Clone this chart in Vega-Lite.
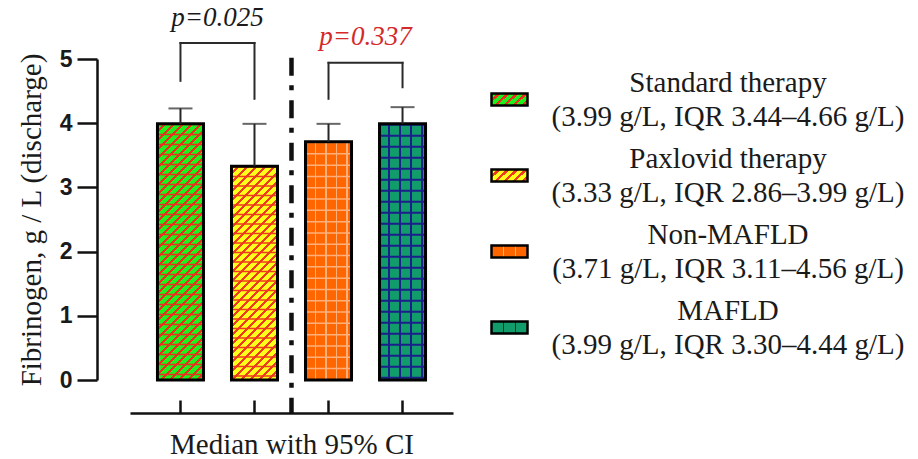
{
  "$schema": "https://vega.github.io/schema/vega-lite/v6.json",
  "width": 323,
  "height": 321,
  "autosize": {"type": "none"},
  "padding": {"left": 130, "top": 59, "right": 465, "bottom": 79},
  "background": "white",
  "datasets": {
    "medians": [
      {"group": "Standard therapy", "legend": "Standard therapy\n(3.99 g/L, IQR 3.44–4.66 g/L)", "median": 3.99, "ci_upper": 4.23},
      {"group": "Paxlovid therapy", "legend": "Paxlovid therapy\n(3.33 g/L, IQR 2.86–3.99 g/L)", "median": 3.33, "ci_upper": 3.99},
      {"group": "Non-MAFLD", "legend": "Non-MAFLD\n(3.71 g/L, IQR 3.11–4.56 g/L)", "median": 3.71, "ci_upper": 3.99},
      {"group": "MAFLD", "legend": "MAFLD\n(3.99 g/L, IQR 3.30–4.44 g/L)", "median": 3.99, "ci_upper": 4.25}
    ],
    "tests": [
      {"left": "Standard therapy", "right": "Paxlovid therapy", "label": "p=0.025", "significant": true},
      {"left": "Non-MAFLD", "right": "MAFLD", "label": "p=0.337", "significant": false}
    ]
  },
  "layer": [
    {
      "data": {"name": "medians"},
      "mark": {"type": "point", "filled": true, "size": 1, "color": "#000"},
      "encoding": {
        "x": {"field": "group", "type": "nominal"},
        "y": {"field": "median", "type": "quantitative"},
        "shape": {
          "field": "legend", "type": "nominal", "sort": null,
          "scale": {"range": ["M-1,-0.333H1V0.333H-1Z", "M-1,-0.333H1V0.333H-1Z", "M-1,-0.333H1V0.333H-1Z", "M-1,-0.333H1V0.333H-1Z"]},
          "legend": {
            "title": null, "orient": "right", "offset": 16, "padding": 21,
            "symbolSize": 1296, "symbolStrokeColor": "#000", "symbolStrokeWidth": 2.5, "symbolOpacity": 1,
            "labelExpr": "split(datum.label, '\\n')",
            "labelFont": "Liberation Serif", "labelFontSize": 29, "labelColor": "#1a1a1a",
            "labelAlign": "center", "labelOffset": 199, "labelLimit": 0, "rowPadding": 12,
            "encoding": {
              "labels": {"lineHeight": {"value": 34}, "dy": {"value": -17}},
              "symbols": {
                "size": {"value": 1296},
                "opacity": {"value": 1},
                "stroke": {"value": "#000"},
                "strokeWidth": {"value": 2.5},
                "fill": {"value": {"expr": "indexof(datum.value,'Standard')===0?{gradient:'linear',x1:0,y1:0,x2:1.2,y2:0.4,stops:[{offset:0,color:'#1ef01e'},{offset:0.1125,color:'#1ef01e'},{offset:0.1125,color:'#e8321e'},{offset:0.1875,color:'#e8321e'},{offset:0.1875,color:'#1ef01e'},{offset:0.3,color:'#1ef01e'},{offset:0.3,color:'#e8321e'},{offset:0.375,color:'#e8321e'},{offset:0.375,color:'#1ef01e'},{offset:0.4875,color:'#1ef01e'},{offset:0.4875,color:'#e8321e'},{offset:0.5625,color:'#e8321e'},{offset:0.5625,color:'#1ef01e'},{offset:0.675,color:'#1ef01e'},{offset:0.675,color:'#e8321e'},{offset:0.75,color:'#e8321e'},{offset:0.75,color:'#1ef01e'},{offset:0.8625,color:'#1ef01e'},{offset:0.8625,color:'#e8321e'},{offset:0.9375,color:'#e8321e'},{offset:0.9375,color:'#1ef01e'},{offset:1,color:'#1ef01e'}]}:indexof(datum.value,'Paxlovid')===0?{gradient:'linear',x1:0,y1:0,x2:1.2,y2:0.4,stops:[{offset:0,color:'#ffff1a'},{offset:0.122,color:'#ffff1a'},{offset:0.122,color:'#ee3a1e'},{offset:0.1875,color:'#ee3a1e'},{offset:0.1875,color:'#ffff1a'},{offset:0.31,color:'#ffff1a'},{offset:0.31,color:'#ee3a1e'},{offset:0.375,color:'#ee3a1e'},{offset:0.375,color:'#ffff1a'},{offset:0.497,color:'#ffff1a'},{offset:0.497,color:'#ee3a1e'},{offset:0.5625,color:'#ee3a1e'},{offset:0.5625,color:'#ffff1a'},{offset:0.685,color:'#ffff1a'},{offset:0.685,color:'#ee3a1e'},{offset:0.75,color:'#ee3a1e'},{offset:0.75,color:'#ffff1a'},{offset:0.872,color:'#ffff1a'},{offset:0.872,color:'#ee3a1e'},{offset:0.9375,color:'#ee3a1e'},{offset:0.9375,color:'#ffff1a'},{offset:1,color:'#ffff1a'}]}:indexof(datum.value,'Non')===0?{gradient:'linear',x1:0,y1:0,x2:1,y2:0,stops:[{offset:0,color:'#ff6600'},{offset:0.313,color:'#ff6600'},{offset:0.313,color:'#ffb07a'},{offset:0.354,color:'#ffb07a'},{offset:0.354,color:'#ff6600'},{offset:0.646,color:'#ff6600'},{offset:0.646,color:'#ffb07a'},{offset:0.688,color:'#ffb07a'},{offset:0.688,color:'#ff6600'},{offset:1,color:'#ff6600'}]}:{gradient:'linear',x1:0,y1:0,x2:1,y2:0,stops:[{offset:0,color:'#129b6b'},{offset:0.31,color:'#129b6b'},{offset:0.31,color:'#1b1f8a'},{offset:0.36,color:'#1b1f8a'},{offset:0.36,color:'#129b6b'},{offset:0.64,color:'#129b6b'},{offset:0.64,color:'#1b1f8a'},{offset:0.69,color:'#1b1f8a'},{offset:0.69,color:'#129b6b'},{offset:1,color:'#129b6b'}]}"}}
              }
            }
          }
        }
      }
    },
    {
      "data": {"name": "medians"},
      "mark": {"type": "bar"},
      "encoding": {
        "x": {
          "field": "group", "type": "nominal",
          "scale": {"domain": ["Standard therapy", "Paxlovid therapy", "Non-MAFLD", "MAFLD"], "paddingInner": 0.3784, "paddingOuter": 0.371},
          "axis": {
            "title": "Median with 95% CI", "labels": false, "offset": 33,
            "tickSize": -13, "tickWidth": 2.5, "tickColor": "#111", "domainWidth": 2.5, "domainColor": "#111",
            "titleFont": "Liberation Serif", "titleFontSize": 29, "titleFontWeight": "normal", "titleColor": "#1a1a1a", "titlePadding": 16
          }
        },
        "y": {
          "field": "median", "type": "quantitative",
          "scale": {"domain": [0, 5], "nice": false},
          "axis": {
            "title": "Fibrinogen, g / L (discharge)", "values": [0, 1, 2, 3, 4, 5], "format": "d", "offset": 33, "grid": false,
            "tickSize": 20, "tickWidth": 2.5, "tickColor": "#111", "domainWidth": 2.5, "domainColor": "#111",
            "labelFont": "Liberation Sans", "labelFontWeight": "bold", "labelFontSize": 23, "labelColor": "#1a1a1a", "labelPadding": 5,
            "titleFont": "Liberation Serif", "titleFontSize": 29, "titleFontWeight": "normal", "titleColor": "#1a1a1a", "titlePadding": 13
          }
        },
        "fill": {
          "field": "group", "type": "nominal", "legend": null,
          "scale": {"domain": ["Standard therapy", "Paxlovid therapy", "Non-MAFLD", "MAFLD"], "range": ["#1ef01e", "#ffff1a", "#ff6600", "#129b6b"]}
        }
      }
    },
    {
      "data": {"name": "medians"},
      "transform": [{"filter": "datum.group === 'Standard therapy'"}],
      "mark": {"type": "bar", "fill": {"gradient": "linear", "x1": 0, "y1": 0, "x2": 0.2445, "y2": 1.3615, "stops": [
        {"offset": 0, "color": "#1ef01e"}, {"offset": 0.017, "color": "#1ef01e"}, {"offset": 0.017, "color": "#e8321e"}, {"offset": 0.025, "color": "#e8321e"},
        {"offset": 0.025, "color": "#1ef01e"}, {"offset": 0.042, "color": "#1ef01e"}, {"offset": 0.042, "color": "#e8321e"}, {"offset": 0.05, "color": "#e8321e"},
        {"offset": 0.05, "color": "#1ef01e"}, {"offset": 0.067, "color": "#1ef01e"}, {"offset": 0.067, "color": "#e8321e"}, {"offset": 0.075, "color": "#e8321e"},
        {"offset": 0.075, "color": "#1ef01e"}, {"offset": 0.092, "color": "#1ef01e"}, {"offset": 0.092, "color": "#e8321e"}, {"offset": 0.1, "color": "#e8321e"},
        {"offset": 0.1, "color": "#1ef01e"}, {"offset": 0.117, "color": "#1ef01e"}, {"offset": 0.117, "color": "#e8321e"}, {"offset": 0.125, "color": "#e8321e"},
        {"offset": 0.125, "color": "#1ef01e"}, {"offset": 0.142, "color": "#1ef01e"}, {"offset": 0.142, "color": "#e8321e"}, {"offset": 0.15, "color": "#e8321e"},
        {"offset": 0.15, "color": "#1ef01e"}, {"offset": 0.167, "color": "#1ef01e"}, {"offset": 0.167, "color": "#e8321e"}, {"offset": 0.175, "color": "#e8321e"},
        {"offset": 0.175, "color": "#1ef01e"}, {"offset": 0.192, "color": "#1ef01e"}, {"offset": 0.192, "color": "#e8321e"}, {"offset": 0.2, "color": "#e8321e"},
        {"offset": 0.2, "color": "#1ef01e"}, {"offset": 0.217, "color": "#1ef01e"}, {"offset": 0.217, "color": "#e8321e"}, {"offset": 0.225, "color": "#e8321e"},
        {"offset": 0.225, "color": "#1ef01e"}, {"offset": 0.242, "color": "#1ef01e"}, {"offset": 0.242, "color": "#e8321e"}, {"offset": 0.25, "color": "#e8321e"},
        {"offset": 0.25, "color": "#1ef01e"}, {"offset": 0.267, "color": "#1ef01e"}, {"offset": 0.267, "color": "#e8321e"}, {"offset": 0.275, "color": "#e8321e"},
        {"offset": 0.275, "color": "#1ef01e"}, {"offset": 0.292, "color": "#1ef01e"}, {"offset": 0.292, "color": "#e8321e"}, {"offset": 0.3, "color": "#e8321e"},
        {"offset": 0.3, "color": "#1ef01e"}, {"offset": 0.317, "color": "#1ef01e"}, {"offset": 0.317, "color": "#e8321e"}, {"offset": 0.325, "color": "#e8321e"},
        {"offset": 0.325, "color": "#1ef01e"}, {"offset": 0.342, "color": "#1ef01e"}, {"offset": 0.342, "color": "#e8321e"}, {"offset": 0.35, "color": "#e8321e"},
        {"offset": 0.35, "color": "#1ef01e"}, {"offset": 0.367, "color": "#1ef01e"}, {"offset": 0.367, "color": "#e8321e"}, {"offset": 0.375, "color": "#e8321e"},
        {"offset": 0.375, "color": "#1ef01e"}, {"offset": 0.392, "color": "#1ef01e"}, {"offset": 0.392, "color": "#e8321e"}, {"offset": 0.4, "color": "#e8321e"},
        {"offset": 0.4, "color": "#1ef01e"}, {"offset": 0.417, "color": "#1ef01e"}, {"offset": 0.417, "color": "#e8321e"}, {"offset": 0.425, "color": "#e8321e"},
        {"offset": 0.425, "color": "#1ef01e"}, {"offset": 0.442, "color": "#1ef01e"}, {"offset": 0.442, "color": "#e8321e"}, {"offset": 0.45, "color": "#e8321e"},
        {"offset": 0.45, "color": "#1ef01e"}, {"offset": 0.467, "color": "#1ef01e"}, {"offset": 0.467, "color": "#e8321e"}, {"offset": 0.475, "color": "#e8321e"},
        {"offset": 0.475, "color": "#1ef01e"}, {"offset": 0.492, "color": "#1ef01e"}, {"offset": 0.492, "color": "#e8321e"}, {"offset": 0.5, "color": "#e8321e"},
        {"offset": 0.5, "color": "#1ef01e"}, {"offset": 0.517, "color": "#1ef01e"}, {"offset": 0.517, "color": "#e8321e"}, {"offset": 0.525, "color": "#e8321e"},
        {"offset": 0.525, "color": "#1ef01e"}, {"offset": 0.542, "color": "#1ef01e"}, {"offset": 0.542, "color": "#e8321e"}, {"offset": 0.55, "color": "#e8321e"},
        {"offset": 0.55, "color": "#1ef01e"}, {"offset": 0.567, "color": "#1ef01e"}, {"offset": 0.567, "color": "#e8321e"}, {"offset": 0.575, "color": "#e8321e"},
        {"offset": 0.575, "color": "#1ef01e"}, {"offset": 0.592, "color": "#1ef01e"}, {"offset": 0.592, "color": "#e8321e"}, {"offset": 0.6, "color": "#e8321e"},
        {"offset": 0.6, "color": "#1ef01e"}, {"offset": 0.617, "color": "#1ef01e"}, {"offset": 0.617, "color": "#e8321e"}, {"offset": 0.625, "color": "#e8321e"},
        {"offset": 0.625, "color": "#1ef01e"}, {"offset": 0.642, "color": "#1ef01e"}, {"offset": 0.642, "color": "#e8321e"}, {"offset": 0.65, "color": "#e8321e"},
        {"offset": 0.65, "color": "#1ef01e"}, {"offset": 0.667, "color": "#1ef01e"}, {"offset": 0.667, "color": "#e8321e"}, {"offset": 0.675, "color": "#e8321e"},
        {"offset": 0.675, "color": "#1ef01e"}, {"offset": 0.692, "color": "#1ef01e"}, {"offset": 0.692, "color": "#e8321e"}, {"offset": 0.7, "color": "#e8321e"},
        {"offset": 0.7, "color": "#1ef01e"}, {"offset": 0.717, "color": "#1ef01e"}, {"offset": 0.717, "color": "#e8321e"}, {"offset": 0.725, "color": "#e8321e"},
        {"offset": 0.725, "color": "#1ef01e"}, {"offset": 0.742, "color": "#1ef01e"}, {"offset": 0.742, "color": "#e8321e"}, {"offset": 0.75, "color": "#e8321e"},
        {"offset": 0.75, "color": "#1ef01e"}, {"offset": 0.767, "color": "#1ef01e"}, {"offset": 0.767, "color": "#e8321e"}, {"offset": 0.775, "color": "#e8321e"},
        {"offset": 0.775, "color": "#1ef01e"}, {"offset": 0.792, "color": "#1ef01e"}, {"offset": 0.792, "color": "#e8321e"}, {"offset": 0.8, "color": "#e8321e"},
        {"offset": 0.8, "color": "#1ef01e"}, {"offset": 0.817, "color": "#1ef01e"}, {"offset": 0.817, "color": "#e8321e"}, {"offset": 0.825, "color": "#e8321e"},
        {"offset": 0.825, "color": "#1ef01e"}, {"offset": 0.842, "color": "#1ef01e"}, {"offset": 0.842, "color": "#e8321e"}, {"offset": 0.85, "color": "#e8321e"}
      ]}},
      "encoding": {
        "x": {"field": "group", "type": "nominal"},
        "y": {"field": "median", "type": "quantitative"}
      }
    },
    {
      "data": {"name": "medians"},
      "transform": [{"filter": "datum.group === 'Paxlovid therapy'"}],
      "mark": {"type": "bar", "fill": {"gradient": "linear", "x1": 0, "y1": 0, "x2": 0.3463, "y2": 1.6094, "stops": [
        {"offset": 0, "color": "#ffff1a"}, {"offset": 0.017, "color": "#ffff1a"}, {"offset": 0.017, "color": "#ee3a1e"}, {"offset": 0.025, "color": "#ee3a1e"},
        {"offset": 0.025, "color": "#ffff1a"}, {"offset": 0.042, "color": "#ffff1a"}, {"offset": 0.042, "color": "#ee3a1e"}, {"offset": 0.05, "color": "#ee3a1e"},
        {"offset": 0.05, "color": "#ffff1a"}, {"offset": 0.067, "color": "#ffff1a"}, {"offset": 0.067, "color": "#ee3a1e"}, {"offset": 0.075, "color": "#ee3a1e"},
        {"offset": 0.075, "color": "#ffff1a"}, {"offset": 0.092, "color": "#ffff1a"}, {"offset": 0.092, "color": "#ee3a1e"}, {"offset": 0.1, "color": "#ee3a1e"},
        {"offset": 0.1, "color": "#ffff1a"}, {"offset": 0.117, "color": "#ffff1a"}, {"offset": 0.117, "color": "#ee3a1e"}, {"offset": 0.125, "color": "#ee3a1e"},
        {"offset": 0.125, "color": "#ffff1a"}, {"offset": 0.142, "color": "#ffff1a"}, {"offset": 0.142, "color": "#ee3a1e"}, {"offset": 0.15, "color": "#ee3a1e"},
        {"offset": 0.15, "color": "#ffff1a"}, {"offset": 0.167, "color": "#ffff1a"}, {"offset": 0.167, "color": "#ee3a1e"}, {"offset": 0.175, "color": "#ee3a1e"},
        {"offset": 0.175, "color": "#ffff1a"}, {"offset": 0.192, "color": "#ffff1a"}, {"offset": 0.192, "color": "#ee3a1e"}, {"offset": 0.2, "color": "#ee3a1e"},
        {"offset": 0.2, "color": "#ffff1a"}, {"offset": 0.217, "color": "#ffff1a"}, {"offset": 0.217, "color": "#ee3a1e"}, {"offset": 0.225, "color": "#ee3a1e"},
        {"offset": 0.225, "color": "#ffff1a"}, {"offset": 0.242, "color": "#ffff1a"}, {"offset": 0.242, "color": "#ee3a1e"}, {"offset": 0.25, "color": "#ee3a1e"},
        {"offset": 0.25, "color": "#ffff1a"}, {"offset": 0.267, "color": "#ffff1a"}, {"offset": 0.267, "color": "#ee3a1e"}, {"offset": 0.275, "color": "#ee3a1e"},
        {"offset": 0.275, "color": "#ffff1a"}, {"offset": 0.292, "color": "#ffff1a"}, {"offset": 0.292, "color": "#ee3a1e"}, {"offset": 0.3, "color": "#ee3a1e"},
        {"offset": 0.3, "color": "#ffff1a"}, {"offset": 0.317, "color": "#ffff1a"}, {"offset": 0.317, "color": "#ee3a1e"}, {"offset": 0.325, "color": "#ee3a1e"},
        {"offset": 0.325, "color": "#ffff1a"}, {"offset": 0.342, "color": "#ffff1a"}, {"offset": 0.342, "color": "#ee3a1e"}, {"offset": 0.35, "color": "#ee3a1e"},
        {"offset": 0.35, "color": "#ffff1a"}, {"offset": 0.367, "color": "#ffff1a"}, {"offset": 0.367, "color": "#ee3a1e"}, {"offset": 0.375, "color": "#ee3a1e"},
        {"offset": 0.375, "color": "#ffff1a"}, {"offset": 0.392, "color": "#ffff1a"}, {"offset": 0.392, "color": "#ee3a1e"}, {"offset": 0.4, "color": "#ee3a1e"},
        {"offset": 0.4, "color": "#ffff1a"}, {"offset": 0.417, "color": "#ffff1a"}, {"offset": 0.417, "color": "#ee3a1e"}, {"offset": 0.425, "color": "#ee3a1e"},
        {"offset": 0.425, "color": "#ffff1a"}, {"offset": 0.442, "color": "#ffff1a"}, {"offset": 0.442, "color": "#ee3a1e"}, {"offset": 0.45, "color": "#ee3a1e"},
        {"offset": 0.45, "color": "#ffff1a"}, {"offset": 0.467, "color": "#ffff1a"}, {"offset": 0.467, "color": "#ee3a1e"}, {"offset": 0.475, "color": "#ee3a1e"},
        {"offset": 0.475, "color": "#ffff1a"}, {"offset": 0.492, "color": "#ffff1a"}, {"offset": 0.492, "color": "#ee3a1e"}, {"offset": 0.5, "color": "#ee3a1e"},
        {"offset": 0.5, "color": "#ffff1a"}, {"offset": 0.517, "color": "#ffff1a"}, {"offset": 0.517, "color": "#ee3a1e"}, {"offset": 0.525, "color": "#ee3a1e"},
        {"offset": 0.525, "color": "#ffff1a"}, {"offset": 0.542, "color": "#ffff1a"}, {"offset": 0.542, "color": "#ee3a1e"}, {"offset": 0.55, "color": "#ee3a1e"},
        {"offset": 0.55, "color": "#ffff1a"}, {"offset": 0.567, "color": "#ffff1a"}, {"offset": 0.567, "color": "#ee3a1e"}, {"offset": 0.575, "color": "#ee3a1e"},
        {"offset": 0.575, "color": "#ffff1a"}, {"offset": 0.592, "color": "#ffff1a"}, {"offset": 0.592, "color": "#ee3a1e"}, {"offset": 0.6, "color": "#ee3a1e"},
        {"offset": 0.6, "color": "#ffff1a"}, {"offset": 0.617, "color": "#ffff1a"}, {"offset": 0.617, "color": "#ee3a1e"}, {"offset": 0.625, "color": "#ee3a1e"},
        {"offset": 0.625, "color": "#ffff1a"}, {"offset": 0.642, "color": "#ffff1a"}, {"offset": 0.642, "color": "#ee3a1e"}, {"offset": 0.65, "color": "#ee3a1e"},
        {"offset": 0.65, "color": "#ffff1a"}, {"offset": 0.667, "color": "#ffff1a"}, {"offset": 0.667, "color": "#ee3a1e"}, {"offset": 0.675, "color": "#ee3a1e"},
        {"offset": 0.675, "color": "#ffff1a"}, {"offset": 0.692, "color": "#ffff1a"}, {"offset": 0.692, "color": "#ee3a1e"}, {"offset": 0.7, "color": "#ee3a1e"},
        {"offset": 0.7, "color": "#ffff1a"}, {"offset": 0.717, "color": "#ffff1a"}, {"offset": 0.717, "color": "#ee3a1e"}, {"offset": 0.725, "color": "#ee3a1e"}
      ]}},
      "encoding": {
        "x": {"field": "group", "type": "nominal"},
        "y": {"field": "median", "type": "quantitative"}
      }
    },
    {
      "data": {"name": "medians"},
      "transform": [{"filter": "datum.group === 'Non-MAFLD'"}],
      "mark": {"type": "bar", "fill": {"gradient": "linear", "x1": 0, "y1": 0, "x2": 1, "y2": 0, "stops": [
        {"offset": 0, "color": "#ff6600"}, {"offset": 0.2, "color": "#ff6600"}, {"offset": 0.2, "color": "#ffb07a"}, {"offset": 0.233, "color": "#ffb07a"},
        {"offset": 0.233, "color": "#ff6600"}, {"offset": 0.43, "color": "#ff6600"}, {"offset": 0.43, "color": "#ffb07a"}, {"offset": 0.463, "color": "#ffb07a"},
        {"offset": 0.463, "color": "#ff6600"}, {"offset": 0.66, "color": "#ff6600"}, {"offset": 0.66, "color": "#ffb07a"}, {"offset": 0.693, "color": "#ffb07a"},
        {"offset": 0.693, "color": "#ff6600"}, {"offset": 0.89, "color": "#ff6600"}, {"offset": 0.89, "color": "#ffb07a"}, {"offset": 0.923, "color": "#ffb07a"},
        {"offset": 0.923, "color": "#ff6600"}, {"offset": 1, "color": "#ff6600"}
      ]}},
      "encoding": {
        "x": {"field": "group", "type": "nominal"},
        "y": {"field": "median", "type": "quantitative"}
      }
    },
    {
      "data": {"name": "medians"},
      "transform": [{"filter": "datum.group === 'MAFLD'"}],
      "mark": {"type": "bar", "fill": {"gradient": "linear", "x1": 0, "y1": 0, "x2": 1, "y2": 0, "stops": [
        {"offset": 0, "color": "#129b6b"}, {"offset": 0.175, "color": "#129b6b"}, {"offset": 0.175, "color": "#1b1f8a"}, {"offset": 0.218, "color": "#1b1f8a"},
        {"offset": 0.218, "color": "#129b6b"}, {"offset": 0.415, "color": "#129b6b"}, {"offset": 0.415, "color": "#1b1f8a"}, {"offset": 0.458, "color": "#1b1f8a"},
        {"offset": 0.458, "color": "#129b6b"}, {"offset": 0.655, "color": "#129b6b"}, {"offset": 0.655, "color": "#1b1f8a"}, {"offset": 0.698, "color": "#1b1f8a"},
        {"offset": 0.698, "color": "#129b6b"}, {"offset": 0.895, "color": "#129b6b"}, {"offset": 0.895, "color": "#1b1f8a"}, {"offset": 0.938, "color": "#1b1f8a"},
        {"offset": 0.938, "color": "#129b6b"}, {"offset": 1, "color": "#129b6b"}
      ]}},
      "encoding": {
        "x": {"field": "group", "type": "nominal"},
        "y": {"field": "median", "type": "quantitative"}
      }
    },
    {
      "data": {"name": "medians"},
      "transform": [{"filter": "datum.group === 'Standard therapy'"}],
      "mark": {"type": "rule", "strokeWidth": 46, "strokeDash": [1.5, 8.5], "color": "#e8321e"},
      "encoding": {
        "x": {"field": "group", "type": "nominal"},
        "y": {"field": "median", "type": "quantitative"},
        "y2": {"datum": 0}
      }
    },
    {
      "data": {"name": "medians"},
      "transform": [{"filter": "datum.group === 'Paxlovid therapy'"}],
      "mark": {"type": "rule", "strokeWidth": 46, "strokeDash": [1.5, 8], "color": "#ee3a1e"},
      "encoding": {
        "x": {"field": "group", "type": "nominal"},
        "y": {"field": "median", "type": "quantitative"},
        "y2": {"datum": 0}
      }
    },
    {
      "data": {"name": "medians"},
      "transform": [{"filter": "datum.group === 'Non-MAFLD'"}],
      "mark": {"type": "rule", "strokeWidth": 46, "strokeDash": [1.5, 9.8], "color": "#ffb07a"},
      "encoding": {
        "x": {"field": "group", "type": "nominal"},
        "y": {"field": "median", "type": "quantitative"},
        "y2": {"datum": 0}
      }
    },
    {
      "data": {"name": "medians"},
      "transform": [{"filter": "datum.group === 'MAFLD'"}],
      "mark": {"type": "rule", "strokeWidth": 46, "strokeDash": [2, 9], "color": "#1b1f8a"},
      "encoding": {
        "x": {"field": "group", "type": "nominal"},
        "y": {"field": "median", "type": "quantitative"},
        "y2": {"datum": 0}
      }
    },
    {
      "data": {"name": "medians"},
      "mark": {"type": "bar", "fill": "transparent", "stroke": "#000", "strokeWidth": 3},
      "encoding": {
        "x": {"field": "group", "type": "nominal"},
        "y": {"field": "median", "type": "quantitative"}
      }
    },
    {
      "data": {"name": "medians"},
      "mark": {"type": "rule", "color": "#262626", "strokeWidth": 2},
      "encoding": {
        "x": {"field": "group", "type": "nominal"},
        "y": {"field": "median", "type": "quantitative"},
        "y2": {"field": "ci_upper"}
      }
    },
    {
      "data": {"name": "medians"},
      "mark": {"type": "tick", "color": "#262626", "size": 24, "thickness": 2},
      "encoding": {
        "x": {"field": "group", "type": "nominal"},
        "y": {"field": "ci_upper", "type": "quantitative"}
      }
    },
    {
      "data": {"values": [{"between": "Paxlovid therapy"}]},
      "mark": {"type": "rule", "color": "#111", "strokeWidth": 4.5, "strokeDash": [18, 9.5, 5, 10], "xOffset": 37},
      "encoding": {
        "x": {"field": "between", "type": "nominal"},
        "y": {"datum": 5.02, "type": "quantitative"},
        "y2": {"datum": -0.52}
      }
    },
    {
      "data": {"name": "tests"},
      "transform": [{"filter": "datum.label === 'p=0.025'"}],
      "layer": [
        {
          "mark": {"type": "rule", "color": "#2a2a2a", "strokeWidth": 2, "strokeCap": "square"},
          "encoding": {
            "x": {"field": "left", "type": "nominal"},
            "x2": {"field": "right"},
            "y": {"datum": 5.25, "type": "quantitative"}
          }
        },
        {
          "mark": {"type": "rule", "color": "#2a2a2a", "strokeWidth": 2, "strokeCap": "square"},
          "encoding": {
            "x": {"field": "left", "type": "nominal"},
            "y": {"datum": 5.25, "type": "quantitative"},
            "y2": {"datum": 4.66}
          }
        },
        {
          "mark": {"type": "rule", "color": "#2a2a2a", "strokeWidth": 2, "strokeCap": "square"},
          "encoding": {
            "x": {"field": "right", "type": "nominal"},
            "y": {"datum": 5.25, "type": "quantitative"},
            "y2": {"datum": 4.38}
          }
        },
        {
          "mark": {"type": "text", "font": "Liberation Serif", "fontStyle": "italic", "fontSize": 27, "align": "center", "baseline": "alphabetic", "xOffset": 37},
          "encoding": {
            "x": {"field": "left", "type": "nominal"},
            "y": {"datum": 5.51, "type": "quantitative"},
            "text": {"field": "label"},
            "color": {"condition": {"test": "datum.significant", "value": "#1a1a1a"}, "value": "#d42a2a"}
          }
        }
      ]
    },
    {
      "data": {"name": "tests"},
      "transform": [{"filter": "datum.label === 'p=0.337'"}],
      "layer": [
        {
          "mark": {"type": "rule", "color": "#2a2a2a", "strokeWidth": 2, "strokeCap": "square"},
          "encoding": {
            "x": {"field": "left", "type": "nominal"},
            "x2": {"field": "right"},
            "y": {"datum": 4.94, "type": "quantitative"}
          }
        },
        {
          "mark": {"type": "rule", "color": "#2a2a2a", "strokeWidth": 2, "strokeCap": "square"},
          "encoding": {
            "x": {"field": "left", "type": "nominal"},
            "y": {"datum": 4.94, "type": "quantitative"},
            "y2": {"datum": 4.38}
          }
        },
        {
          "mark": {"type": "rule", "color": "#2a2a2a", "strokeWidth": 2, "strokeCap": "square"},
          "encoding": {
            "x": {"field": "right", "type": "nominal"},
            "y": {"datum": 4.94, "type": "quantitative"},
            "y2": {"datum": 4.56}
          }
        },
        {
          "mark": {"type": "text", "font": "Liberation Serif", "fontStyle": "italic", "fontSize": 27, "align": "center", "baseline": "alphabetic", "xOffset": 37},
          "encoding": {
            "x": {"field": "left", "type": "nominal"},
            "y": {"datum": 5.22, "type": "quantitative"},
            "text": {"field": "label"},
            "color": {"condition": {"test": "datum.significant", "value": "#1a1a1a"}, "value": "#d42a2a"}
          }
        }
      ]
    }
  ],
  "config": {
    "view": {"stroke": null},
    "axis": {"grid": false}
  }
}
